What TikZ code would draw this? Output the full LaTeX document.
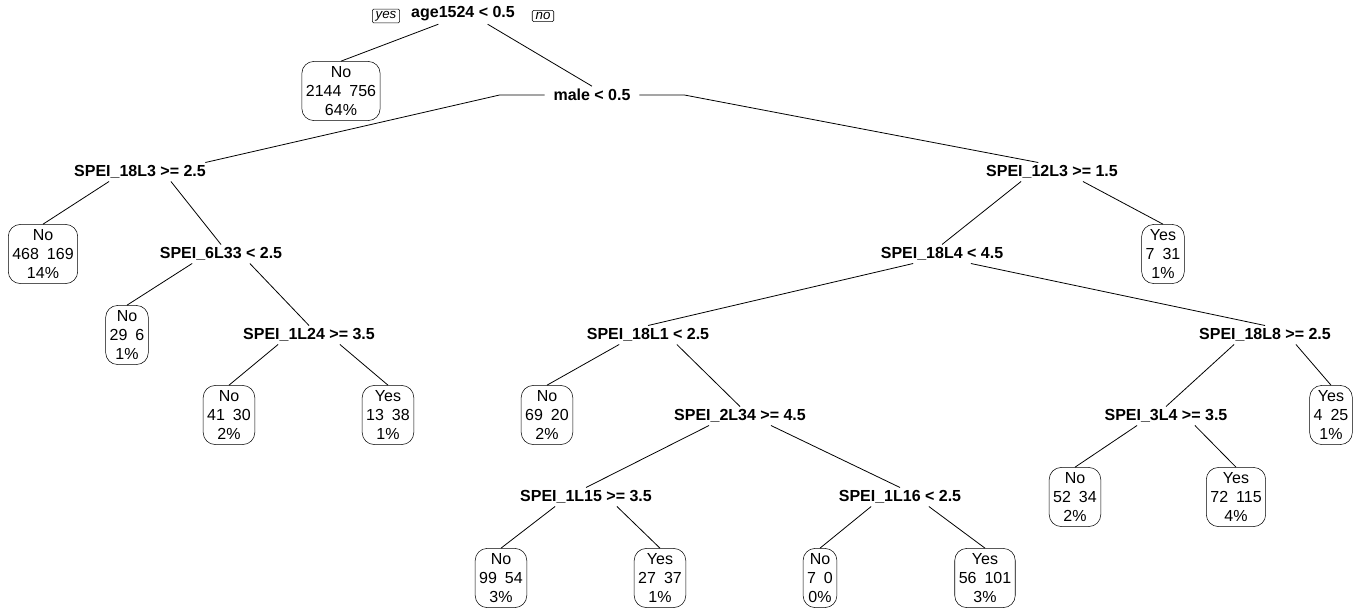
\documentclass[tikz,border=0pt]{standalone}
\usepackage{fontspec}
\setmainfont{Liberation Sans}
\usetikzlibrary{calc}
\begin{document}
\begin{tikzpicture}[x=0.75pt,y=-0.75pt,
  split/.style={font=\bfseries\fontsize{12}{14}\selectfont,inner sep=2pt},
  leaf/.style={draw,rounded corners=9pt,align=center,font=\fontsize{12}{14}\selectfont,inner xsep=3pt,inner ysep=4pt},
  yn/.style={draw,rounded corners=1pt,font=\itshape\fontsize{10}{11}\selectfont,inner xsep=2.5pt,inner ysep=1.5pt},
  edge/.style={line width=0.6pt}]
\useasboundingbox (0,0) rectangle (1360,614);
\node[split] (r) at (463,14) {age1524 < 0.5};
\node[yn] (yes) at (386,16) {yes};
\node[yn] (no) at (543,16) {no};
\node[leaf] (l1) at (341,91) {No\\2144\enspace756\\64\%};
\node[split] (m) at (592,95) {male < 0.5};
\node[split] (a) at (140,172) {SPEI\_18L3 >= 2.5};
\node[leaf] (l2) at (43,254) {No\\468\enspace169\\14\%};
\node[split] (b) at (221,254) {SPEI\_6L33 < 2.5};
\node[leaf] (l3) at (127,335) {No\\29\enspace6\\1\%};
\node[split] (c) at (309,335) {SPEI\_1L24 >= 3.5};
\node[leaf] (l4) at (229,415) {No\\41\enspace30\\2\%};
\node[leaf] (l5) at (388,415) {Yes\\13\enspace38\\1\%};
\node[split] (d) at (1052,172) {SPEI\_12L3 >= 1.5};
\node[leaf] (l6) at (1163,254) {Yes\\7\enspace31\\1\%};
\node[split] (e) at (942,254) {SPEI\_18L4 < 4.5};
\node[split] (f) at (648,335) {SPEI\_18L1 < 2.5};
\node[leaf] (l7) at (547,415) {No\\69\enspace20\\2\%};
\node[split] (g) at (740,416) {SPEI\_2L34 >= 4.5};
\node[split] (h) at (586,497) {SPEI\_1L15 >= 3.5};
\node[leaf] (l8) at (501,578) {No\\99\enspace54\\3\%};
\node[leaf] (l9) at (660,578) {Yes\\27\enspace37\\1\%};
\node[split] (i) at (900,497) {SPEI\_1L16 < 2.5};
\node[leaf] (l10) at (820,578) {No\\7\enspace0\\0\%};
\node[leaf] (l11) at (985,578) {Yes\\56\enspace101\\3\%};
\node[split] (j) at (1265,335) {SPEI\_18L8 >= 2.5};
\node[leaf] (l12) at (1331,415) {Yes\\4\enspace25\\1\%};
\node[split] (k) at (1166,416) {SPEI\_3L4 >= 3.5};
\node[leaf] (l13) at (1075,497) {No\\52\enspace34\\2\%};
\node[leaf] (l14) at (1236,497) {Yes\\72\enspace115\\4\%};
\newcommand{\lc}[2]{\draw[edge] ($(#1.south)!0.45!(#1.south west)$) -- (#2.north);}
\newcommand{\rc}[2]{\draw[edge] ($(#1.south)!0.45!(#1.south east)$) -- (#2.north);}
\lc{r}{l1}\rc{r}{m}
\draw[edge] ($(m.west)+(-6,0)$) -- ++(-45,0) -- ($(a.north)!0.95!(a.north east)$);
\draw[edge] ($(m.east)+(6,0)$) -- ++(45,0) -- ($(d.north)!0.2!(d.north west)$);
\lc{a}{l2}\rc{a}{b}
\lc{b}{l3}\rc{b}{c}
\lc{c}{l4}\rc{c}{l5}
\lc{d}{e}\rc{d}{l6}
\lc{e}{f}\rc{e}{j}
\lc{f}{l7}\rc{f}{g}
\lc{g}{h}\rc{g}{i}
\lc{h}{l8}\rc{h}{l9}
\lc{i}{l10}\rc{i}{l11}
\lc{j}{k}\rc{j}{l12}
\lc{k}{l13}\rc{k}{l14}
\end{tikzpicture}
\end{document}
